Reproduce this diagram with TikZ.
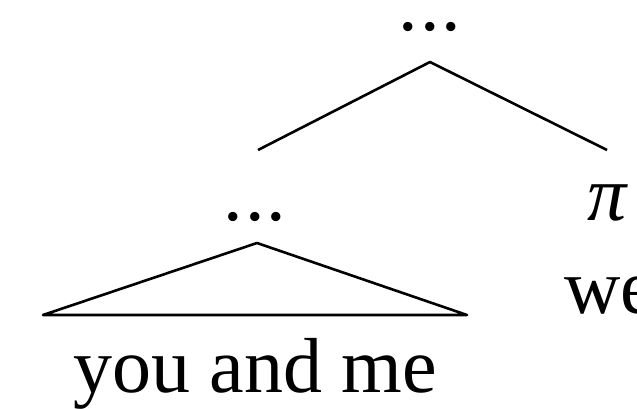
\documentclass[tikz,border=0pt]{standalone}
\usepackage{fontspec}
\setmainfont{Liberation Serif}
\usepackage{tikz}

\begin{document}
\begin{tikzpicture}[
        x=0.5pt, y=-0.5pt,
        label/.style={anchor=base, inner sep=0pt, font=\fontsize{39}{45}\selectfont},
        branch/.style={line width=1.3pt, line join=round}
    ]
        \useasboundingbox (0,0) rectangle (637,408);

        % Beschriftungen
        \node[label] (topdots) at (430,30) {.\kern1pt.\kern1pt.};
        \node[label] (leftdots) at (255,220) {.\kern1pt.\kern1pt.};
        \node[label] (pinode) at (608,220) {\textit{π}};
        \node[label] (wenode) at (610,313) {we};
        \node[label] (phrase) at (255,392) {you and me};

        % Knickpunkte
        \coordinate (topapex) at (430,62);
        \coordinate (leftend) at (258,150);
        \coordinate (rightend) at (607,150);
        \coordinate (triapex) at (257,243);
        \coordinate (trileft) at (43,315);
        \coordinate (triright) at (467,315);

        % Kanten
        \draw[branch] (leftend) -- (topapex) -- (rightend);
        \draw[branch] (triapex) -- (trileft) -- (triright) -- cycle;
    \end{tikzpicture}
\end{document}
